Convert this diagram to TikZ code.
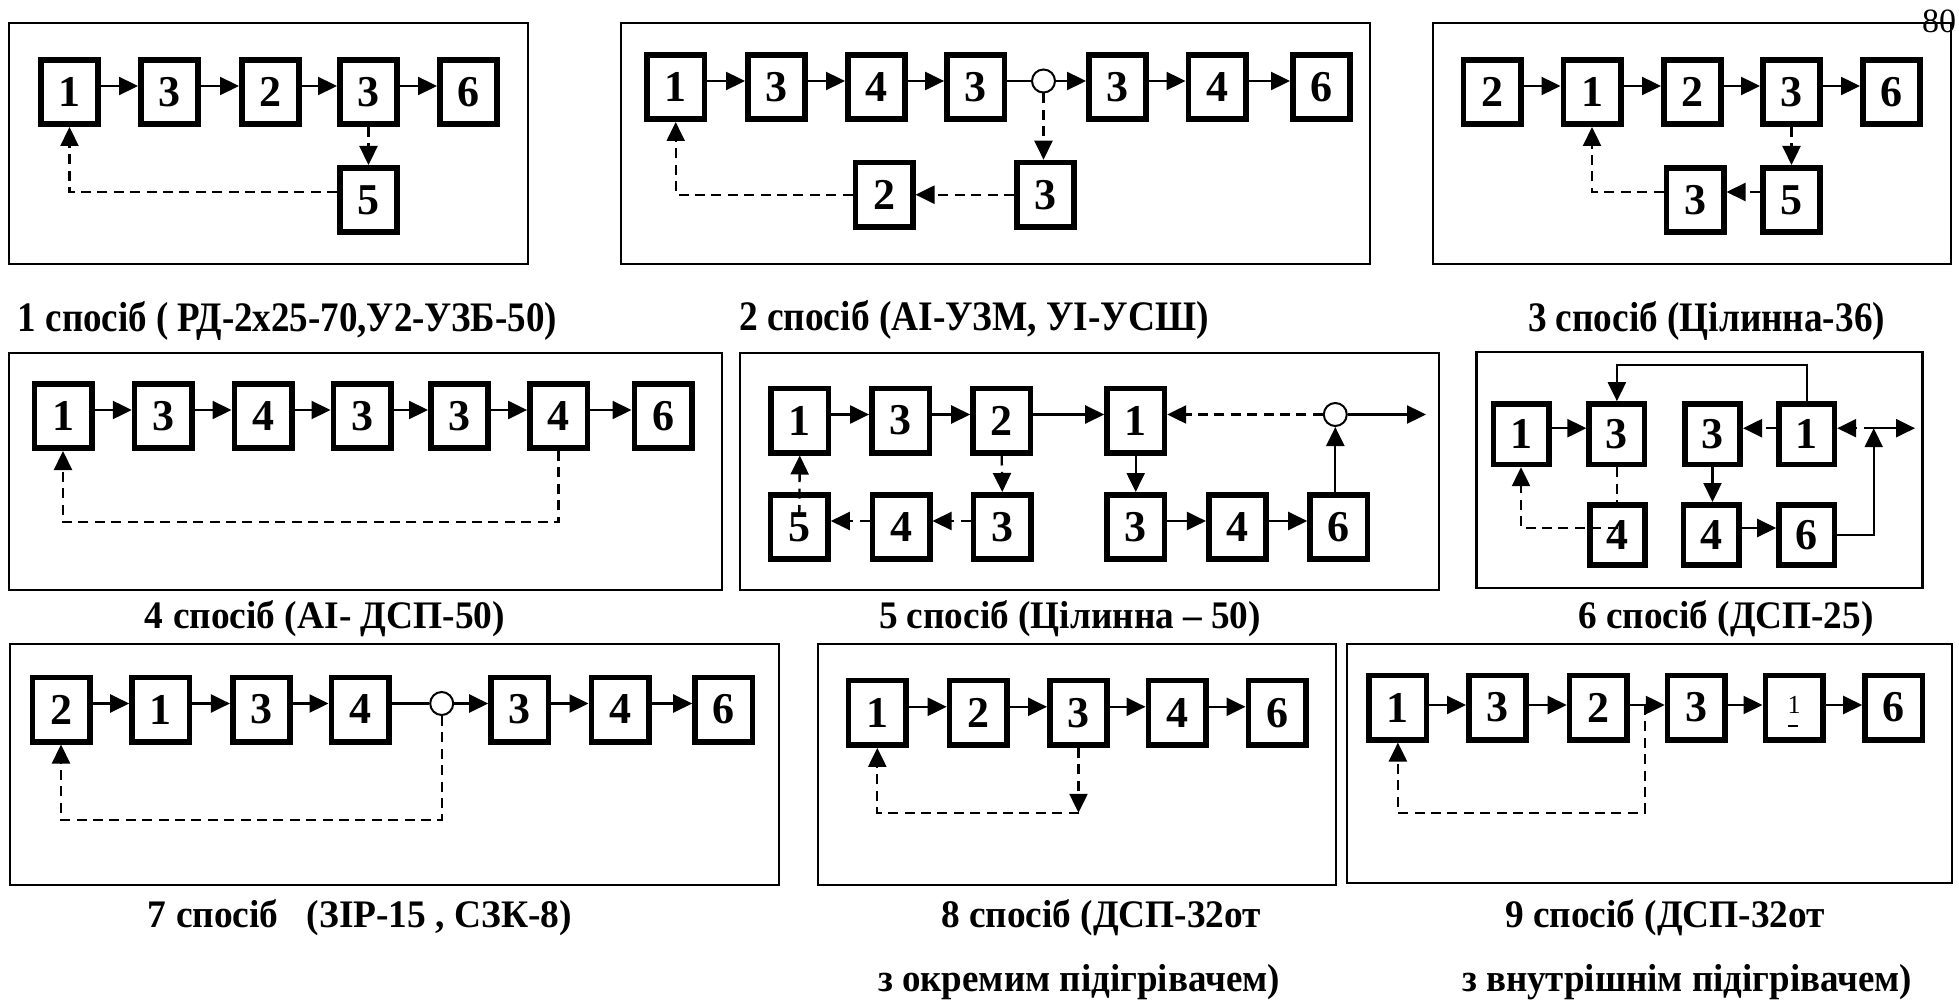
\documentclass[tikz,border=0pt]{standalone}
\usepackage{fontspec}
\setmainfont{Liberation Serif}
\usepackage{graphicx}
\usetikzlibrary{arrows.meta,calc}
\newcommand\capw[2]{\resizebox{#1}{\height}{#2}}
\tikzset{
 blk/.style={draw, line width=2.8pt, minimum width=28.7pt, minimum height=32.2pt, inner sep=0pt, font=\bfseries\fontsize{22}{22}\selectfont},
 blks/.style={blk, minimum width=27.7pt, minimum height=30.2pt},
 frm/.style={line width=1.1pt},
 con/.style={line width=1.15pt},
 arr/.style={con, -{Triangle[length=9.5pt,width=9pt]}},
 dsh/.style={dash pattern=on 5pt off 3.2pt},
 jn/.style={draw, circle, line width=1pt, minimum size=11.5pt, inner sep=0pt},
 capt/.style={anchor=base, inner sep=0pt, font=\bfseries\fontsize{19.5}{22}\selectfont},
}
\begin{document}
\begin{tikzpicture}[x=0.5pt,y=-0.5pt]
\useasboundingbox (0,0) rectangle (1959,1000);

% ---------- Panel 1 ----------
\draw[frm] (9,23) rectangle (528,264);
\node[blk] (p1a) at (69.5,92) {1};
\node[blk] (p1b) at (169.5,92) {3};
\node[blk] (p1c) at (270.5,92) {2};
\node[blk] (p1d) at (368.5,92) {3};
\node[blk] (p1e) at (468.5,92) {6};
\node[blk] (p1f) at (368.5,200) {5};
\foreach \s/\t in {p1a/p1b,p1b/p1c,p1c/p1d,p1d/p1e}
  \draw[arr] ([yshift=3pt]\s.east) -- ([yshift=3pt]\t.west);
\draw[arr,dsh] (p1d.south) -- (p1f.north);
\draw[arr,dsh] ([yshift=4pt]p1f.west) -| (p1a.south);
\node[capt,font=\bfseries\fontsize{21}{24}\selectfont] (c1) at (287.5,331.5) {\capw{269.5pt}{1 спосіб ( РД-2х25-70,У2-УЗБ-50)}};

% ---------- Panel 2 ----------
\draw[frm] (621,23) rectangle (1370,264);
\node[blk] (p2a) at (675.7,87) {1};
\node[blk] (p2b) at (776.5,87) {3};
\node[blk] (p2c) at (876.5,87) {4};
\node[blk] (p2d) at (975.6,87) {3};
\node[jn]  (p2o) at (1043.5,81) {};
\node[blk] (p2e) at (1117.5,87) {3};
\node[blk] (p2f) at (1217,87) {4};
\node[blk] (p2g) at (1321.5,87) {6};
\node[blk] (p2h) at (884,194.7) {2};
\node[blk] (p2i) at (1045.5,194.7) {3};
\foreach \s/\t in {p2a/p2b,p2b/p2c,p2c/p2d,p2e/p2f,p2f/p2g}
  \draw[arr] ([yshift=3pt]\s.east) -- ([yshift=3pt]\t.west);
\draw[con] ([yshift=3pt]p2d.east) -- (p2o.west);
\draw[arr] (p2o.east) -- ([yshift=3pt]p2e.west);
\draw[arr,dsh] (p2o.south) -- (p2o.south |- p2i.north);
\draw[arr,dsh] (p2i.west) -- (p2h.east);
\draw[arr,dsh] (p2h.west) -| (p2a.south);
\node[capt,font=\bfseries\fontsize{21}{24}\selectfont] (c2) at (974,330) {\capw{235pt}{2 спосіб (АІ-УЗМ, УІ-УСШ)}};

% ---------- Panel 3 ----------
\draw[frm] (1433,23) rectangle (1951,264);
\node[blk] (p3a) at (1492,92) {2};
\node[blk] (p3b) at (1592,92) {1};
\node[blk] (p3c) at (1692.5,92) {2};
\node[blk] (p3d) at (1791.5,92) {3};
\node[blk] (p3e) at (1891.5,92) {6};
\node[blk] (p3f) at (1695,200) {3};
\node[blk] (p3g) at (1791.5,200) {5};
\foreach \s/\t in {p3a/p3b,p3b/p3c,p3c/p3d,p3d/p3e}
  \draw[arr] ([yshift=3pt]\s.east) -- ([yshift=3pt]\t.west);
\draw[arr,dsh] (p3d.south) -- (p3g.north);
\draw[arr,dsh] ([yshift=4pt]p3g.west) -- ([yshift=4pt]p3f.east);
\draw[arr,dsh] ([yshift=4pt]p3f.west) -| (p3b.south);
\node[capt,font=\bfseries\fontsize{21}{24}\selectfont] (c3) at (1706.5,331.5) {\capw{178.5pt}{3 спосіб (Цілинна-36)}};
\node[font=\fontsize{17}{17}\selectfont, inner sep=0pt] (pg) at (1939,21) {80};

% ---------- Panel 4 ----------
\draw[frm] (9,353) rectangle (722,590);
\node[blk] (p4a) at (63,416) {1};
\node[blk] (p4b) at (163.3,416) {3};
\node[blk] (p4c) at (263,416) {4};
\node[blk] (p4d) at (362,416) {3};
\node[blk] (p4e) at (459.5,416) {3};
\node[blk] (p4f) at (558.6,416) {4};
\node[blk] (p4g) at (663,416) {6};
\foreach \s/\t in {p4a/p4b,p4b/p4c,p4c/p4d,p4d/p4e,p4e/p4f,p4f/p4g}
  \draw[arr] ([yshift=3pt]\s.east) -- ([yshift=3pt]\t.west);
\draw[arr,dsh] (p4f.south) -- ++(0,71) -| (p4a.south);
\node[capt] (c4) at (325,628) {\capw{180pt}{4 спосіб (АІ- ДСП-50)}};

% ---------- Panel 5 ----------
\draw[frm] (740,353) rectangle (1439,590);
\node[blk] (p5a) at (799.8,420.5) {1};
\node[blk] (p5b) at (900.6,420.5) {3};
\node[blk] (p5c) at (1001.7,420.5) {2};
\node[blk] (p5d) at (1135.7,420.5) {1};
\node[jn]  (p5o) at (1335.3,414.5) {};
\coordinate (p5x) at (1426,414.5);
\node[blk] (p5e) at (799.3,527) {5};
\node[blk] (p5f) at (901,527) {4};
\node[blk] (p5g) at (1002.3,527) {3};
\node[blk] (p5h) at (1135.7,527) {3};
\node[blk] (p5i) at (1237.4,527) {4};
\node[blk] (p5j) at (1338.7,527) {6};
\foreach \s/\t in {p5a/p5b,p5b/p5c,p5c/p5d,p5h/p5i,p5i/p5j}
  \draw[arr] ([yshift=3pt]\s.east) -- ([yshift=3pt]\t.west);
\draw[arr] (p5o.east) -- (p5x);
\draw[arr,dsh] (p5o.west) -- ([yshift=3pt]p5d.east);
\draw[arr] (p5d.south) -- (p5h.north);
\draw[arr] (p5o.south |- p5j.north) -- (p5o.south);
\draw[arr,dsh] (p5c.south) -- (p5g.north);
\draw[arr,dsh] ([yshift=3pt]p5g.west) -- ([yshift=3pt]p5f.east);
\draw[arr,dsh] ([yshift=3pt]p5f.west) -- ([yshift=3pt]p5e.east);
\draw[arr,dsh] ([yshift=6pt]p5e.center) -- (p5a.south);
\node[capt] (c5) at (1070,628) {\capw{191pt}{5 спосіб (Цілинна – 50)}};

% ---------- Panel 6 ----------
\draw[frm] (1476.5,352) rectangle (1922.4,588.3);
\node[blks] (p6a) at (1521,434.2) {1};
\node[blks] (p6b) at (1616.9,434.2) {3};
\node[blks] (p6c) at (1712.5,434.2) {3};
\node[blks] (p6d) at (1806.7,434.2) {1};
\node[blks] (p6e) at (1617.5,535) {4};
\node[blks] (p6f) at (1711.3,535) {4};
\node[blks] (p6g) at (1806.7,535) {6};
\coordinate (p6j) at (1873.7,428.2);
\coordinate (p6x) at (1915,428.2);
\draw[arr] ([yshift=3pt]p6a.east) -- ([yshift=3pt]p6b.west);
\draw[arr] (p6d.north) -- ++(0,-36) -| (p6b.north);
\draw[arr,dsh] ([yshift=3pt]p6d.west) -- ([yshift=3pt]p6c.east);
\draw[arr] (p6c.south) -- (p6c.south |- p6f.north);
\draw[arr] ([yshift=3.5pt]p6f.east) -- ([yshift=3.5pt]p6g.west);
\draw[arr] (p6g.east) -| (p6j);
\draw[arr,dsh] (p6j) -- ([yshift=3pt]p6d.east);
\draw[arr] (p6j) -- (p6x);
\draw[con,dsh] (p6b.south) -- (p6b.south |- p6e.north);
\draw[arr,dsh] ([yshift=3.5pt]p6e.center) -| (p6a.south);
\node[capt] (c6) at (1726,628) {\capw{147.5pt}{6 спосіб (ДСП-25)}};

% ---------- Panel 7 ----------
\draw[frm] (10,644) rectangle (779,885);
\node[blk] (p7a) at (61,709.5) {2};
\node[blk] (p7b) at (160.7,709.5) {1};
\node[blk] (p7c) at (261.4,709.5) {3};
\node[blk] (p7d) at (360,709.5) {4};
\node[jn]  (p7o) at (441.7,703.5) {};
\node[blk] (p7e) at (519.7,709.5) {3};
\node[blk] (p7f) at (620,709.5) {4};
\node[blk] (p7g) at (723.7,709.5) {6};
\foreach \s/\t in {p7a/p7b,p7b/p7c,p7c/p7d,p7e/p7f,p7f/p7g}
  \draw[arr] ([yshift=3pt]\s.east) -- ([yshift=3pt]\t.west);
\draw[con] ([yshift=3pt]p7d.east) -- (p7o.west);
\draw[arr] (p7o.east) -- ([yshift=3pt]p7e.west);
\draw[arr,dsh] (p7o.south) -- ++(0,104) -| (p7a.south);
\node[capt] (c7) at (360,927) {\capw{212pt}{7 спосіб\ \ \ (ЗІР-15 , СЗК-8)}};

% ---------- Panel 8 ----------
\draw[frm] (818,644) rectangle (1336,885);
\node[blk] (p8a) at (877.3,712.8) {1};
\node[blk] (p8b) at (978.2,712.8) {2};
\node[blk] (p8c) at (1078.5,712.8) {3};
\node[blk] (p8d) at (1177,712.8) {4};
\node[blk] (p8e) at (1277,712.8) {6};
\foreach \s/\t in {p8a/p8b,p8b/p8c,p8c/p8d,p8d/p8e}
  \draw[arr] ([yshift=3pt]\s.east) -- ([yshift=3pt]\t.west);
\path (p8c.south) ++(0,65) coordinate (p8k);
\draw[arr,dsh] (p8c.south) -- (p8k);
\draw[arr,dsh] (p8k) -| (p8a.south);
\node[capt] (c8a) at (1101,927) {\capw{160pt}{8 спосіб (ДСП-32от}};
\node[capt] (c8b) at (1079,991) {\capw{201pt}{з окремим підігрівачем)}};

% ---------- Panel 9 ----------
\draw[frm] (1347,644) rectangle (1952,883.3);
\node[blk] (p9a) at (1397.9,707.5) {1};
\node[blk] (p9b) at (1497.5,707.5) {3};
\node[blk] (p9c) at (1598.2,707.5) {2};
\node[blk] (p9d) at (1696.3,707.5) {3};
\node[blk,font=\mdseries\fontsize{13}{13}\selectfont] (p9e) at (1794,707.5) {\raisebox{2.5pt}{1}};
\node[blk] (p9f) at (1893.7,707.5) {6};
\foreach \s/\t in {p9a/p9b,p9b/p9c,p9c/p9d,p9d/p9e,p9e/p9f}
  \draw[arr] ([yshift=1.25pt]\s.east) -- ([yshift=1.25pt]\t.west);
\draw[line width=1.1pt] ([xshift=-3pt,yshift=-9.25pt]p9e.center) -- ++(10,0);
\coordinate (p9j) at (1644.8,705);
\draw[arr,dsh] (p9j) -- ++(0,107.7) -| (p9a.south);
\node[capt] (c9a) at (1665,927) {\capw{160pt}{9 спосіб (ДСП-32от}};
\node[capt] (c9b) at (1687,991) {\capw{225pt}{з внутрішнім підігрівачем)}};
\end{tikzpicture}
\end{document}
